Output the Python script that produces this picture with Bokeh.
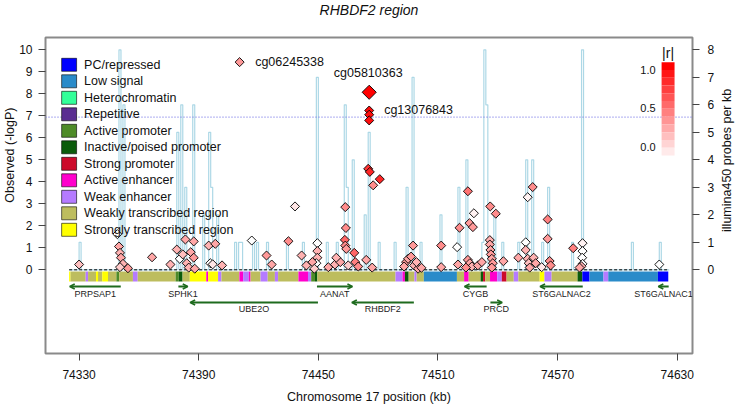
import math
import numpy as np
from bokeh.plotting import figure
from bokeh.models import Range1d, LinearAxis, FixedTicker, Arrow, OpenHead, Title
from bokeh.embed import file_html
from bokeh.resources import INLINE
from bokeh.core.properties import value

FONT = "Liberation Sans"

# ---------------- data ----------------
x_ticks = [74330, 74390, 74450, 74510, 74570, 74630]
y_ticks = list(range(0, 11))
y2_ticks = list(range(0, 9))
region_start, region_end = 74325.0, 74625.5
threshold = 6.94

state_names = ["PC/repressed", "Low signal", "Heterochromatin", "Repetitive",
               "Active promoter", "Inactive/poised promoter", "Strong promoter",
               "Active enhancer", "Weak enhancer", "Weakly transcribed region",
               "Strongly transcribed region"]
state_colors = ["#0000FF", "#2A8BC9", "#33FF99", "#5A2D91", "#4E8B28", "#0B5B0B",
                "#CC0A2A", "#FF00CC", "#B57BFF", "#BDBD5E", "#FFFF00"]

seg_start = [74325.0, 74325.7, 74333.3, 74334.5, 74338.5, 74339.5, 74341.6, 74344.5, 74348.7,
             74350.1, 74357.0, 74359.4, 74378.4, 74380.0, 74381.9, 74385.5, 74393.8, 74394.7,
             74399.7, 74401.4, 74410.4, 74412.3, 74415.1, 74416.0, 74421.0, 74424.6, 74428.2,
             74429.8, 74440.0, 74444.8, 74446.4, 74448.3, 74449.5, 74488.7, 74492.2, 74493.4,
             74495.3, 74498.2, 74499.3, 74502.9, 74519.5, 74523.1, 74525.4, 74531.4, 74532.6,
             74533.7, 74536.1, 74539.7, 74542.0, 74544.4, 74548.0, 74550.3, 74561.0, 74563.4,
             74567.0, 74580.0, 74582.4, 74586.0, 74593.0, 74595.4, 74620.3]
seg_end = seg_start[1:] + [74625.5]
seg_state = [10, 9, 8, 9, 10, 9, 10, 9, 4,
             9, 8, 9, 4, 5, 9, 10, 7, 10,
             8, 9, 7, 8, 7, 9, 8, 9, 8,
             9, 7, 8, 4, 5, 9, 8, 7, 5,
             9, 8, 9, 1, 9, 7, 9, 5, 6,
             9, 7, 8, 6, 9, 8, 9, 10, 8,
             9, 5, 0, 1, 8, 1, 0]

gene_names = ["PRPSAP1", "SPHK1", "UBE2O", "AANAT", "RHBDF2", "CYGB", "PRCD",
              "ST6GALNAC2", "ST6GALNAC1"]
gene_start = [74325.3, 74379.8, 74385.7, 74449.3, 74466.8, 74523.3, 74536.3, 74561.2, 74620.5]
gene_end = [74350.9, 74384.5, 74449.8, 74467.1, 74497.9, 74534.4, 74542.2, 74582.6, 74625.7]
gene_strand = ["-", "+", "-", "+", "-", "-", "+", "-", "-"]
gene_row = [0, 0, 1, 0, 1, 0, 1, 0, 0]

hist_kb = [74330, 74350, 74352, 74379, 74381, 74383, 74387, 74392, 74395, 74396, 74399,
           74408, 74410, 74411, 74417, 74419, 74424, 74434, 74442, 74449, 74454, 74459,
           74463, 74464, 74467, 74473, 74475, 74480, 74488, 74494, 74497, 74501, 74511,
           74520, 74524, 74532, 74533, 74534, 74538, 74542, 74550, 74554, 74557, 74562,
           74565, 74577, 74582, 74607, 74621]
hist_n = [1, 8, 6, 5, 6, 3, 6, 2, 5, 3, 2,
          1, 1, 1, 1, 1, 1, 1, 1, 7, 1, 1,
          6, 3, 4, 2, 5, 1, 1, 3, 7, 1, 2,
          3, 4, 1, 8, 6, 2, 1, 1, 4, 4, 1,
          3, 1, 8, 1, 1]

cpg_kb = [74330.0, 74349.2, 74350.0, 74350.5, 74351.0, 74352.0, 74354.5, 74350.5, 74366.6, 74375.8,
          74379.0, 74383.3, 74387.5, 74380.5, 74382.0, 74384.0, 74386.0, 74387.5, 74385.0, 74388.0,
          74395.0, 74398.3, 74395.8, 74397.0, 74401.7, 74416.6, 74424.0, 74426.6, 74435.0, 74438.3,
          74441.6, 74444.0, 74449.5, 74449.5, 74449.5, 74449.0, 74447.0, 74448.0, 74455.0, 74458.3,
          74463.5, 74463.8, 74463.3, 74463.5, 74464.0, 74468.0, 74468.5, 74470.0, 74474.0, 74477.0,
          74475.0, 74475.8, 74480.8, 74477.5, 74461.0, 74459.0, 74465.0, 74494.0, 74495.0, 74496.5,
          74497.5, 74493.0, 74498.0, 74500.0, 74511.6, 74511.6, 74519.6, 74520.8, 74525.0, 74525.8,
          74527.5, 74528.0, 74520.0, 74525.0, 74526.0, 74527.0, 74524.0, 74530.0, 74532.0, 74536.0,
          74536.0, 74536.3, 74536.5, 74537.0, 74537.5, 74537.0, 74536.2, 74539.0, 74542.8, 74550.3,
          74554.0, 74554.0, 74555.0, 74555.5, 74556.0, 74555.0, 74557.5, 74558.0, 74559.0, 74562.0,
          74565.0, 74565.0, 74566.0, 74566.5, 74577.8, 74582.5, 74582.5, 74582.3, 74582.5, 74582.0,
          74581.0, 74621.0, 74475.5, 74475.5, 74475.5, 74410.5, 74499.2, 74501.7]
cpg_logp = [0.24, 1.62, 1.06, 0.77, 0.55, 0.27, 0.07, 0.12, 0.57, 0.24,
            0.92, 1.38, 1.29, 0.50, 0.70, 0.30, 0.80, 0.55, 0.10, 0.05,
            1.10, 1.18, 0.30, 0.25, 0.20, 1.33, 0.65, 0.24, 1.30, 2.88,
            0.65, 0.20, 1.21, 0.85, 0.55, 0.30, 0.35, 0.05, 0.12, 0.24,
            2.85, 1.90, 1.36, 1.10, 0.95, 0.77, 0.35, 0.15, 0.45, 0.10,
            4.59, 4.45, 4.12, 3.84, 0.35, 0.55, 0.20, 0.35, 0.50, 0.60,
            1.10, 0.15, 0.20, 0.05, 1.10, 0.12, 1.03, 1.91, 3.57, 2.12,
            1.94, 2.57, 0.24, 0.45, 0.30, 0.15, 0.10, 0.20, 0.35, 1.35,
            1.15, 0.90, 0.70, 0.50, 0.30, 0.10, 2.88, 2.55, 0.39, 0.55,
            1.25, 0.90, 0.50, 0.30, 0.10, 3.30, 3.76, 0.55, 0.30, 0.12,
            2.29, 1.41, 0.40, 0.20, 0.98, 1.21, 0.85, 0.55, 0.27, 0.16,
            0.10, 0.24, 7.24, 7.05, 6.79, 9.44, 0.35, 0.09]
cpg_r = [0.25, 0.00, 0.35, 0.30, 0.35, 0.30, 0.40, 0.20, 0.35, 0.30,
         0.30, 0.35, 0.35, 0.00, 0.25, 0.30, 0.35, 0.40, 0.30, 0.35,
         0.30, 0.35, 0.00, 0.10, 0.30, 0.00, 0.40, 0.35, 0.45, 0.10,
         0.30, 0.30, 0.00, 0.30, 0.30, 0.00, 0.35, 0.20, 0.35, 0.30,
         0.45, 0.45, 0.60, 0.45, 0.40, 0.60, 0.50, 0.45, 0.35, 0.35,
         0.80, 0.85, 0.85, 0.45, 0.35, 0.30, 0.20, 0.40, 0.35, 0.40,
         0.40, 0.35, 0.30, 0.35, 0.45, 0.35, 0.00, 0.45, 0.55, 0.40,
         0.40, 0.05, 0.35, 0.40, 0.35, 0.30, 0.45, 0.35, 0.35, 0.30,
         0.35, 0.35, 0.40, 0.35, 0.40, 0.40, 0.45, 0.45, 0.35, 0.35,
         0.00, 0.30, 0.30, 0.25, 0.35, 0.05, 0.45, 0.30, 0.35, 0.10,
         0.50, 0.40, 0.45, 0.45, 0.50, 0.05, 0.00, 0.00, 0.00, 0.30,
         0.35, 0.00, 0.95, 0.95, 0.95, 0.40, 0.30, 0.35]

lead_kb, lead_logp, lead_r = 74475.5, 8.07, 1.0
label_names = ["cg05810363", "cg13076843", "cg06245338"]
y_label = "Observed (-logP)"
y2_label = "illumina450 probes per kb"
x_label = "Chromosome 17 position (kb)"
title_text = "RHBDF2 region"

# ---------------- layout helpers (page pixel -> data) ----------------
FL, FR, FT, FB = 43, 692, 37, 353          # frame edges in page pixels
XR = (74330 - (76.7 - FL) / 2.0, 74330 + (FR - 76.7) / 2.0)
YR = (-(FB - 269.3) / 22.0, (269.3 - FT) / 22.0)
Y2R = (-(FB - 269.3) / 27.5, (269.3 - FT) / 27.5)


def px(x):
    return XR[0] + (x - FL) / 2.0


def py(y):
    return (269.3 - y) / 22.0


def rcol(r):
    g = int(round(255 * (1 - r)))
    return "#%02X%02X%02X" % (255, g, g)


p = figure(width=745, height=406, x_range=Range1d(*XR), y_range=Range1d(*YR),
           output_backend="svg", toolbar_location=None, title=None,
           min_border_left=FL, min_border_right=745 - FR, min_border_top=FT,
           min_border_bottom=406 - FB)
p.extra_y_ranges = {"probes": Range1d(*Y2R)}
p.xgrid.visible = False
p.ygrid.visible = False
p.outline_line_color = "#8A8A8A"
p.outline_line_width = 2
p.background_fill_color = "white"

# spacer panel between frame and title, then the title itself
p.add_layout(Title(text=" ", text_font_size="1px", standoff=19), "above")
p.add_layout(Title(text=title_text, align="center", standoff=-4, text_font=FONT,
                   text_font_size="14px", text_font_style="italic", text_color="#111111"),
             "above")


def style_axis(ax, standoff):
    ax.axis_line_color = None
    ax.major_tick_line_color = "#444444"
    ax.major_tick_in = 0
    ax.major_tick_out = 7
    ax.minor_tick_line_color = None
    ax.major_label_text_font = FONT
    ax.major_label_text_font_size = "12px"
    ax.major_label_text_color = "#111111"
    ax.major_label_standoff = standoff
    ax.axis_label_text_font = FONT
    ax.axis_label_text_font_size = "12.5px"
    ax.axis_label_text_font_style = "normal"
    ax.axis_label_text_color = "#111111"


p.xaxis.ticker = FixedTicker(ticks=x_ticks)
p.yaxis.ticker = FixedTicker(ticks=y_ticks)
style_axis(p.xaxis[0], 9)
style_axis(p.yaxis[0], 6)
p.xaxis.axis_label = x_label
p.xaxis.axis_label_standoff = 8
p.yaxis.major_label_orientation = "horizontal"
ax2 = LinearAxis(y_range_name="probes", ticker=FixedTicker(ticks=y2_ticks))
style_axis(ax2, 8)
p.add_layout(ax2, "right")

# left axis title: reads bottom-to-top, its upper end ~70 px below the frame top
p.add_layout(Title(text=y_label, align="right", offset=70, standoff=0,
                   text_font=FONT, text_font_size="12.5px", text_font_style="normal",
                   text_color="#111111"), "left")

# right axis title: reads bottom-to-top as in the reference
props = ax2.properties()
if "axis_label_orientation" in props and "axis_label_align" in props:
    # anchored at the bottom of the axis; non-breaking spaces lift the words to
    # the span they occupy in the reference
    ax2.axis_label = "\u00a0" * 35 + y2_label
    ax2.axis_label_orientation = math.pi / 2
    ax2.axis_label_align = "start"
    ax2.axis_label_standoff = 10
elif "axis_label_orientation" in props:
    ax2.axis_label = y2_label
    ax2.axis_label_orientation = math.pi / 2
    ax2.axis_label_standoff = 10
else:
    p.add_layout(Title(text=y2_label, align="left", offset=50, standoff=12,
                       text_font=FONT, text_font_size="12.5px", text_font_style="normal",
                       text_color="#111111"), "right")

# probes-per-kb step histogram
edges = np.arange(region_start, region_end, 1.0)
counts = np.zeros(len(edges))
for k, n in zip(hist_kb, hist_n):
    counts[int(k - region_start)] = n
p.step(np.append(edges, edges[-1] + 1), np.append(counts, 0), mode="after",
       y_range_name="probes", line_color="#ADD8E6", line_width=1.2)

# chromatin state bar
p.quad(left=seg_start, right=seg_end, bottom=py(281), top=py(271),
       fill_color=[state_colors[s] for s in seg_state], line_color=None)

# reference lines
p.line([region_start, region_end], [0, 0], line_color="black", line_dash="3 2", line_width=1)
p.line([XR[0], XR[1]], [threshold, threshold], line_color="#7C7CE6", line_dash="1 2", line_width=1.4)

# genes
row_arrow_y = [py(286), py(302)]
row_label_y = [py(293.5), py(308.5)]
gcol = "#1E6B1E"
for name, a, b, s, r in zip(gene_names, gene_start, gene_end, gene_strand, gene_row):
    xs, xe = (b, a) if s == "-" else (a, b)
    p.add_layout(Arrow(x_start=xs, y_start=row_arrow_y[r], x_end=xe, y_end=row_arrow_y[r],
                       line_color=gcol, line_width=2,
                       end=OpenHead(size=5, line_color=gcol, line_width=1.6)))
p.text(x=[(a + b) / 2 for a, b in zip(gene_start, gene_end)],
       y=[row_label_y[r] for r in gene_row], text=gene_names,
       text_font=value(FONT), text_font_size="9px", text_color="#222222",
       text_align="center", text_baseline="middle")

# CpG points
p.scatter(cpg_kb, cpg_logp, marker="square", angle=np.pi / 4, size=6.4,
          fill_color=[rcol(r) for r in cpg_r], line_color="black", line_width=0.9)
p.scatter([lead_kb], [lead_logp], marker="square", angle=np.pi / 4, size=10,
          fill_color=rcol(lead_r), line_color="black", line_width=0.9)

# probe labels
p.text(x=[px(366.7)], y=[py(72.7)], text=[label_names[0]], text_font=value(FONT),
       text_font_size="12.5px", text_align="center", text_baseline="middle", text_color="#111111")
p.text(x=[px(382.7)], y=[py(109)], text=[label_names[1]], text_font=value(FONT),
       text_font_size="12.5px", text_align="left", text_baseline="middle", text_color="#111111")
p.text(x=[px(253.3)], y=[py(61.7)], text=[label_names[2]], text_font=value(FONT),
       text_font_size="12.5px", text_align="left", text_baseline="middle", text_color="#111111")

# legend of chromatin states
rows_y = [64.3 + 16.5 * i for i in range(len(state_names))]
p.rect(x=[px(66.7)] * len(rows_y), y=[py(v) for v in rows_y], width=7.5, height=13.0 / 22.0,
       fill_color=state_colors, line_color="black", line_width=0.6)
p.text(x=[px(81.7)] * len(rows_y), y=[py(v) for v in rows_y], text=state_names,
       text_font=value(FONT), text_font_size="12.5px", text_color="#111111",
       text_align="left", text_baseline="middle")

# |r| colour bar
nb = 12
top_px, bot_px = 61.7, 155.0
hb = (bot_px - top_px) / nb
p.quad(left=[px(661)] * nb, right=[px(674)] * nb,
       top=[py(top_px + i * hb) for i in range(nb)],
       bottom=[py(top_px + (i + 1) * hb) for i in range(nb)],
       fill_color=[rcol(1 - i / nb) for i in range(nb)], line_color=None)
p.text(x=[px(655)] * 3, y=[py(69), py(107.7), py(146.5)], text=["1.0", "0.5", "0.0"],
       text_font=value(FONT), text_font_size="11px", text_color="#111111",
       text_align="right", text_baseline="middle")
p.text(x=[px(667.5)], y=[py(52)], text=["|r|"], text_font=value(FONT), text_font_size="14px",
       text_color="#111111", text_align="center", text_baseline="middle")

open("out.html", "w").write(file_html(p, INLINE))
